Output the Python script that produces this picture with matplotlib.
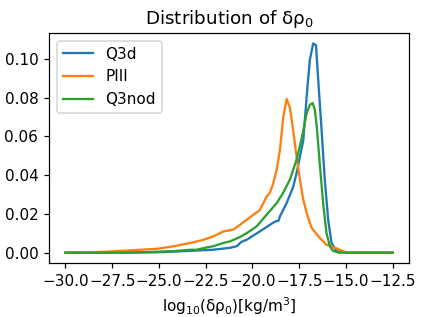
#!/usr/bin/env python3

from matplotlib import pyplot as plt
from matplotlib.ticker import MultipleLocator

# values
q3d_x = [-30.0, -27.0, -25.0, -23.86, -22.1, -21.2, -20.84, -20.6, -20.3, -19.6,
         -19.06, -18.8, -18.6, -18.53, -18.17, -17.82, -17.64, -17.28, -17.1,
         -16.93, -16.75, -16.6, -16.48, -16.3, -16.13, -15.95, -15.77, -15.5,
         -15.0, -12.5]
q3d_y = [0.0, 0.0, 0.0002, 0.0007, 0.0015, 0.0025, 0.0033, 0.0055, 0.0067, 0.011,
         0.0144, 0.016, 0.0165, 0.0187, 0.0256, 0.034, 0.041, 0.058, 0.0806,
         0.0995, 0.108, 0.107, 0.089, 0.063, 0.0376, 0.017, 0.005, 0.0007,
         0.0, 0.0]

piii_x = [-30.0, -28.7, -27.8, -26.9, -26.0, -25.1, -24.2, -23.86, -23.3, -22.6,
          -22.09, -21.55, -21.02, -20.66, -20.3, -19.95, -19.6, -19.24, -19.06,
          -18.88, -18.7, -18.53, -18.35, -18.17, -17.99, -17.82, -17.64, -17.46,
          -17.28, -17.1, -16.84, -16.4, -16.04, -15.7, -15.33, -14.97, -12.5]
piii_y = [0.0, 0.0002, 0.0005, 0.001, 0.0015, 0.002, 0.0033, 0.004, 0.005, 0.0067,
          0.0084, 0.011, 0.0119, 0.0144, 0.017, 0.0196, 0.022, 0.029, 0.031,
          0.036, 0.043, 0.053, 0.070, 0.0794, 0.0746, 0.063, 0.0496, 0.0376,
          0.0273, 0.0205, 0.0129, 0.0076, 0.0041, 0.003, 0.0015, 0.0, 0.0]

q3nod_x = [-30.0, -27.0, -26.0, -24.2, -23.3, -23.0, -22.44, -22.1, -21.55, -21.2,
           -20.66, -20.3, -19.77, -19.24, -18.7, -18.35, -18.0, -17.64, -17.46,
           -17.28, -17.1, -16.93, -16.78, -16.66, -16.54, -16.4, -16.22, -16.04,
           -15.86, -15.7, -15.4, -12.5]
q3nod_y = [0.0, 0.0, 0.0002, 0.0008, 0.0015, 0.0015, 0.0027, 0.0033, 0.005, 0.0058,
           0.0081, 0.0101, 0.0136, 0.0196, 0.0256, 0.031, 0.0376, 0.048, 0.055,
           0.063, 0.072, 0.0763, 0.0772, 0.0737, 0.063, 0.046, 0.0256, 0.0101,
           0.0033, 0.001, 0.0, 0.0]


def main() -> None:
    dpi = 110
    fig, ax = plt.subplots(figsize=(423 / dpi, 317 / dpi), dpi=dpi)
    fig.subplots_adjust(left=0.116, right=0.967, bottom=0.170, top=0.896)

    ax.plot(q3d_x, q3d_y, label='Q3d')
    ax.plot(piii_x, piii_y, label='PIII')
    ax.plot(q3nod_x, q3nod_y, label='Q3nod')

    ax.xaxis.set_major_locator(MultipleLocator(2.5))
    ax.yaxis.set_major_locator(MultipleLocator(0.02))

    ax.set_title('Distribution of δρ$_0$')
    ax.set_xlabel('log$_{10}$(δρ$_0$)[kg/m$^3$]')
    ax.legend(loc='upper left')

    fig.savefig('out.png', dpi=dpi)


if __name__ == '__main__':
    main()
